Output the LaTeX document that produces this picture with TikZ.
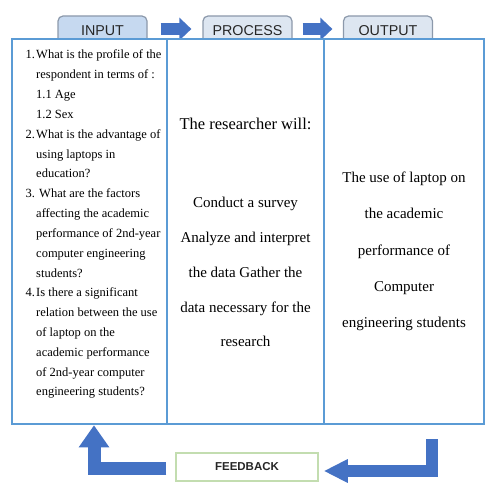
\documentclass[tikz,border=0pt]{standalone}
\usepackage{fontspec}
\setmainfont{Liberation Serif}
\newfontfamily\tabfont{Liberation Sans}
\usetikzlibrary{arrows.meta}
\definecolor{frameblue}{HTML}{5B9BD5}
\definecolor{arrowblue}{HTML}{4472C4}
\definecolor{tabfillA}{HTML}{C6D9F0}
\definecolor{tabfillB}{HTML}{DDE6F1}
\definecolor{tabedge}{HTML}{8C99AB}
\definecolor{fbedge}{HTML}{C3DDB0}
\begin{document}
\begin{tikzpicture}[x=1pt,y=-1pt,
  tabbox/.style={draw=tabedge, line width=1.2pt, rounded corners=5pt,
    minimum width=89pt, minimum height=29pt, inner sep=0pt,
    font=\tabfont\fontsize{14.3}{14}\selectfont, text=black!85},
  colbox/.style={draw=frameblue, fill=white, line width=2.5pt,
    minimum height=385pt, inner sep=0pt},
  qline/.style={anchor=base west, inner sep=0pt, font=\fontsize{12.5}{14}\selectfont},
  midline/.style={anchor=base, inner sep=0pt, font=\fontsize{15}{18}\selectfont},
  toparrow/.style={draw=arrowblue, line width=12pt, -{Triangle[length=12pt,width=22pt]}},
  fbarrow/.style={draw=arrowblue, line join=miter},
]
\useasboundingbox (0,0) rectangle (500,500);

% header tabs
\node[tabbox, fill=tabfillA] (tabin)   at (102.5,30.5) {INPUT};
\node[tabbox, fill=tabfillB] (tabproc) at (247.5,30.5) {PROCESS};
\node[tabbox, fill=tabfillB] (tabout)  at (388,30.5)   {OUTPUT};

% block arrows between the tabs
\draw[toparrow] ([xshift=13pt,yshift=1.5pt]tabin.east) -- ([xshift=-11pt,yshift=1.5pt]tabproc.west);
\draw[toparrow] ([xshift=10pt,yshift=1.5pt]tabproc.east) -- ([xshift=-10.5pt,yshift=1.5pt]tabout.west);

% the three columns
\node[colbox, minimum width=155pt] (incol)   at (89.5,231.5) {};
\node[colbox, minimum width=157pt] (proccol) at (245.5,231.5) {};
\node[colbox, minimum width=160pt] (outcol)  at (404,231.5) {};

% input column: research questions
\foreach \n/\k in {1./1, 2./5, 3./8, 4./13}
  \node[qline] (num\k) at (25.5, 59+19.82*\k-19.82) {\n};
\foreach \xx/\t [count=\i] in {
  36/What is the profile of the,
  36/respondent in terms of :,
  36/1.1 Age,
  36/1.2 Sex,
  36/What is the advantage of,
  36/using laptops in,
  36/education?,
  39/What are the factors,
  36/affecting the academic,
  36/performance of 2nd-year,
  36/computer engineering,
  36/students?,
  36/Is there a significant,
  36/relation between the use,
  36/of laptop on the,
  36/academic performance,
  36/of 2nd-year computer,
  36/engineering students?}
  \node[qline] (q\i) at (\xx, 59+19.82*\i-19.82) {\t};

% process column
\node[anchor=base, inner sep=0pt, font=\fontsize{16.5}{18}\selectfont] (phead) at (245.5,129) {The researcher will:};
\foreach \t/\yy [count=\i] in {
  Conduct a survey/207,
  Analyze and interpret/242,
  the data Gather the/277,
  data necessary for the/312,
  research/346}
  \node[midline] (p\i) at (245.5,\yy) {\t};

% output column
\foreach \t/\yy [count=\i] in {
  The use of laptop on/182,
  the academic/218,
  performance of/255,
  Computer/291,
  engineering students/327}
  \node[midline] (o\i) at (404,\yy) {\t};

% feedback loop
\node[draw=fbedge, line width=1.5pt, fill=white, minimum width=142pt, minimum height=28pt,
      inner sep=0pt, font=\tabfont\bfseries\fontsize{11.5}{12}\selectfont, text=black!85] (fb) at (247,467) {FEEDBACK};
\coordinate (fbfrom) at (432,439);
\draw[fbarrow, line width=12pt, -{Triangle[length=24pt,width=22pt]}]
  (fbfrom) |- ([xshift=5pt,yshift=-4pt]fb.east);
\draw[fbarrow, line width=13pt, -{Triangle[length=22pt,width=29pt]}]
  ([xshift=-9pt,yshift=-1pt]fb.west) -| ([xshift=4.5pt]incol.south);
\end{tikzpicture}
\end{document}
